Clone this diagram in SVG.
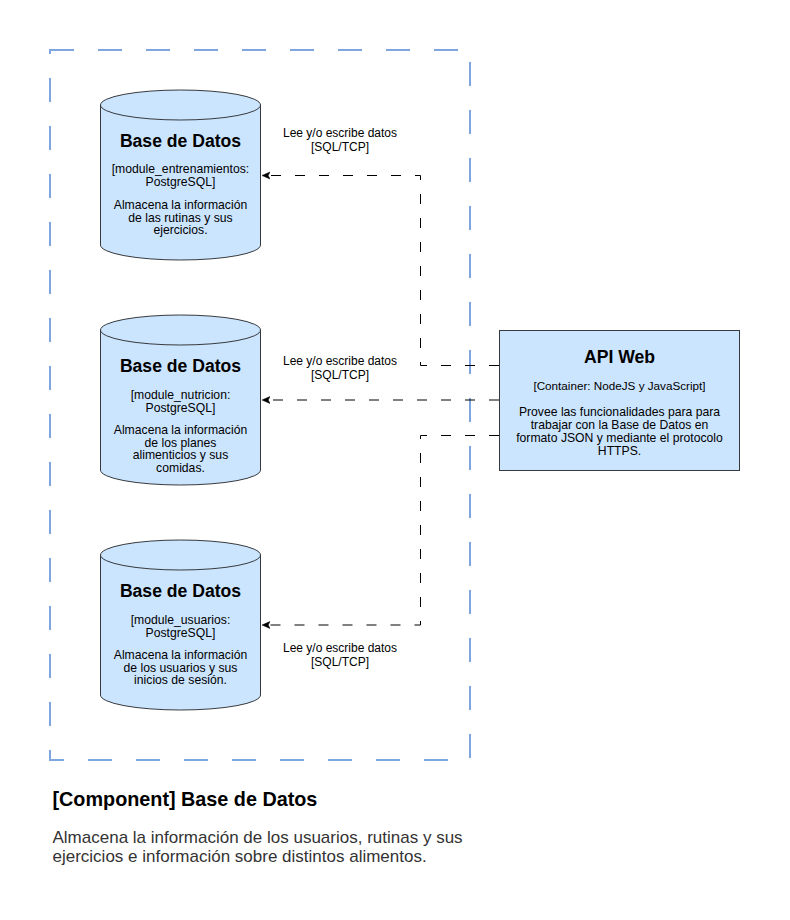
<svg xmlns="http://www.w3.org/2000/svg" width="790" height="920" viewBox="0 0 790 920">
<style>
.bg{fill:#ffffff}
.boundary{fill:none;stroke:#7EA6E0;stroke-width:2;stroke-dasharray:24 24}
.node{fill:#cce5ff;stroke:#36393d;stroke-width:1}
.name{font-family:"Liberation Sans",Arial,sans-serif;font-weight:bold;font-size:17.6px;fill:#000;text-anchor:middle}
.desc{font-family:"Liberation Sans",Arial,sans-serif;font-size:12.2px;fill:#000;text-anchor:middle}
.lbl{font-family:"Liberation Sans",Arial,sans-serif;font-size:12px;fill:#000;text-anchor:middle}
.edge{fill:none;stroke:#000;stroke-width:1;stroke-dasharray:10 14}
.title{font-family:"Liberation Sans",Arial,sans-serif;font-weight:bold;font-size:19.8px;fill:#000}
.tdesc{font-family:"Liberation Sans",Arial,sans-serif;font-size:17px;fill:#333}
</style>
<defs>
<marker id="arr" markerWidth="10" markerHeight="10" refX="8" refY="4" orient="auto" markerUnits="userSpaceOnUse">
<path d="M0,0.5 L8,4 L0,7.5 L1.8,4 Z" fill="#000" stroke="#000" stroke-width="0.5"/>
</marker>
</defs>
<rect class="bg" x="0" y="0" width="790" height="920"/>
<g id="boundary">
<rect class="boundary" x="50" y="50" width="420" height="710"/>
</g>
<g id="db1">
<path class="node" d="M100.5,105 A80,15 0 0 1 260.5,105 L260.5,245 A80,15 0 0 1 100.5,245 Z"/>
<path class="node" style="fill:none" d="M100.5,105 A80,15 0 0 0 260.5,105"/>
<text class="name" x="180.5" y="147">Base de Datos</text>
<text class="desc" x="180.5" y="173.3">[module_entrenamientos:</text>
<text class="desc" x="180.5" y="186">PostgreSQL]</text>
<text class="desc" x="180.5" y="209">Almacena la información</text>
<text class="desc" x="180.5" y="221.7">de las rutinas y sus</text>
<text class="desc" x="180.5" y="234.4">ejercicios.</text>
</g>
<g id="db2">
<path class="node" d="M100.5,330 A80,15 0 0 1 260.5,330 L260.5,470 A80,15 0 0 1 100.5,470 Z"/>
<path class="node" style="fill:none" d="M100.5,330 A80,15 0 0 0 260.5,330"/>
<text class="name" x="180.5" y="372">Base de Datos</text>
<text class="desc" x="180.5" y="399.3">[module_nutricion:</text>
<text class="desc" x="180.5" y="412">PostgreSQL]</text>
<text class="desc" x="180.5" y="434">Almacena la información</text>
<text class="desc" x="180.5" y="446.7">de los planes</text>
<text class="desc" x="180.5" y="459.4">alimenticios y sus</text>
<text class="desc" x="180.5" y="472.1">comidas.</text>
</g>
<g id="db3">
<path class="node" d="M100.5,555 A80,15 0 0 1 260.5,555 L260.5,695 A80,15 0 0 1 100.5,695 Z"/>
<path class="node" style="fill:none" d="M100.5,555 A80,15 0 0 0 260.5,555"/>
<text class="name" x="180.5" y="597">Base de Datos</text>
<text class="desc" x="180.5" y="623.8">[module_usuarios:</text>
<text class="desc" x="180.5" y="636.5">PostgreSQL]</text>
<text class="desc" x="180.5" y="659">Almacena la información</text>
<text class="desc" x="180.5" y="671.7">de los usuarios y sus</text>
<text class="desc" x="180.5" y="684.4">inicios de sesión.</text>
</g>
<g id="api">
<rect class="node" x="499.5" y="330.5" width="240" height="140"/>
<text class="name" x="619.5" y="363">API Web</text>
<text class="desc" style="font-size:11.7px" x="619.5" y="390">[Container: NodeJS y JavaScript]</text>
<text class="desc" x="619.5" y="415.5">Provee las funcionalidades para para</text>
<text class="desc" x="619.5" y="428.7">trabajar con la Base de Datos en</text>
<text class="desc" x="619.5" y="441.9">formato JSON y mediante el protocolo</text>
<text class="desc" x="619.5" y="455.1">HTTPS.</text>
</g>
<g id="connectors">
<path class="edge" d="M499,365.5 L420.5,365.5 L420.5,175.5 L262,175.5" marker-end="url(#arr)"/>
<path class="edge" d="M499,400 L262,400" marker-end="url(#arr)"/>
<path class="edge" d="M499,435.5 L420.5,435.5 L420.5,625 L262,625" marker-end="url(#arr)"/>
<text class="lbl" x="340" y="136.5">Lee y/o escribe datos</text>
<text class="lbl" x="340" y="151">[SQL/TCP]</text>
<text class="lbl" x="340" y="364.5">Lee y/o escribe datos</text>
<text class="lbl" x="340" y="379">[SQL/TCP]</text>
<text class="lbl" x="340" y="651.5">Lee y/o escribe datos</text>
<text class="lbl" x="340" y="666">[SQL/TCP]</text>
</g>
<g id="legend">
<text class="title" x="52.5" y="806">[Component] Base de Datos</text>
<text class="tdesc" x="52.5" y="842.5">Almacena la información de los usuarios, rutinas y sus</text>
<text class="tdesc" x="52.5" y="862">ejercicios e información sobre distintos alimentos.</text>
</g>
</svg>
